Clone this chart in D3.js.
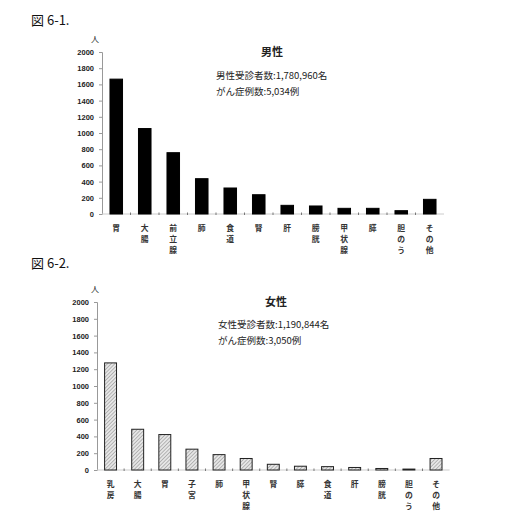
<!DOCTYPE html>
<html>
<head>
<meta charset="utf-8">
<script src="https://cdn.jsdelivr.net/npm/d3@7"></script>
<style>
  body { margin: 0; background: #fff; }
  text { font-family: "Noto Sans CJK JP", sans-serif; }
</style>
</head>
<body>
<div id="container"></div>
<script>
(function() {

// 男性
let maleCategories = ["胃", "大腸", "前立腺", "肺", "食道", "腎", "肝", "膀胱", "甲状腺", "膵", "胆のう", "その他"];
let maleValues = [1665, 1055, 757, 436, 321, 238, 107, 99, 70, 70, 41, 181];

// 女性
let femaleCategories = ["乳房", "大腸", "胃", "子宮", "肺", "甲状腺", "腎", "膵", "食道", "肝", "膀胱", "胆のう", "その他"];
let femaleValues = [1275, 485, 422, 248, 183, 137, 68, 45, 40, 30, 18, 11, 137];

let yTicks = [0, 200, 400, 600, 800, 1000, 1200, 1400, 1600, 1800, 2000];

let svg = d3.select("#container")
  .append("svg")
    .attr("width", 524)
    .attr("height", 528);

let defs = svg.append("defs");
let pat = defs.append("pattern")
    .attr("id", "hatch")
    .attr("patternUnits", "userSpaceOnUse")
    .attr("width", 2.6)
    .attr("height", 2.6)
    .attr("patternTransform", "rotate(45)");
pat.append("rect").attr("width", 2.6).attr("height", 2.6).attr("fill", "#e6e6e6");
pat.append("line")
    .attr("x1", 0).attr("y1", 0).attr("x2", 0).attr("y2", 2.6)
    .attr("stroke", "#777").attr("stroke-width", 0.9);

// figure captions
svg.append("text").attr("x", 31).attr("y", 25)
  .style("font-size", "13px").style("fill", "#111").text("図 6-1.");
svg.append("text").attr("x", 31).attr("y", 268)
  .style("font-size", "13px").style("fill", "#111").text("図 6-2.");

buildChart({
  cats: maleCategories, vals: maleValues,
  left: 102, right: 444, top: 52, bottom: 214,
  title: "男性", titleX: 272, titleY: 56,
  lines: ["男性受診者数:1,780,960名", "がん症例数:5,034例"],
  textX: 216, textY: 79,
  fill: "#000", stroke: "#000",
  unitY: 42
});

buildChart({
  cats: femaleCategories, vals: femaleValues,
  left: 97, right: 449.6, top: 302, bottom: 470,
  title: "女性", titleX: 276, titleY: 306,
  lines: ["女性受診者数:1,190,844名", "がん症例数:3,050例"],
  textX: 218, textY: 328,
  fill: "url(#hatch)", stroke: "#222",
  unitY: 292
});

function buildChart(o) {
  let g = svg.append("g");

  let x = d3.scaleBand()
    .domain(o.cats)
    .range([o.left, o.right])
    .paddingInner(0.56)
    .paddingOuter(0.28);
  let y = d3.scaleLinear()
    .domain([0, 2000])
    .range([o.bottom, o.top]);

  // y axis
  let ya = g.append("g")
    .attr("transform", "translate(" + o.left + ",0)")
    .call(d3.axisLeft(y).tickValues(yTicks).tickFormat(d3.format("d")).tickSize(3).tickPadding(5));
  ya.select(".domain").attr("stroke", "#999");
  ya.selectAll(".tick line").attr("stroke", "#999");
  ya.selectAll(".tick text")
    .style("font-family", "'Liberation Sans', Arial, sans-serif")
    .style("font-size", "7.5px")
    .style("font-weight", "bold")
    .style("fill", "#222");

  // x axis baseline
  g.append("line")
    .attr("x1", o.left).attr("x2", o.right)
    .attr("y1", y(0)).attr("y2", y(0))
    .attr("stroke", "#ccc");
  g.selectAll(".xtick")
    .data(o.cats.slice(1))
    .enter()
    .append("line")
      .attr("x1", (d) => x(d) - x.step() * x.paddingInner() / 2)
      .attr("x2", (d) => x(d) - x.step() * x.paddingInner() / 2)
      .attr("y1", y(0) - 1.5)
      .attr("y2", y(0) + 1)
      .attr("stroke", "#777");

  // bars
  g.selectAll(".bar")
    .data(o.vals)
    .enter()
    .append("rect")
      .attr("x", (d, i) => x(o.cats[i]))
      .attr("y", (d) => y(d))
      .attr("width", x.bandwidth())
      .attr("height", (d) => y(0) - y(d))
      .attr("fill", o.fill)
      .attr("stroke", o.stroke)
      .attr("stroke-width", 1);

  // vertical category labels, one character per line
  o.cats.forEach((c) => {
    g.selectAll(null)
      .data(c.split(""))
      .enter()
      .append("text")
        .attr("x", x(c) + x.bandwidth() / 2)
        .attr("y", (d, i) => y(0) + 16.5 + i * 11.2)
        .attr("text-anchor", "middle")
        .style("font-size", "7.8px")
        .style("font-weight", "bold")
        .style("fill", "#333")
        .text((d) => d);
  });

  // unit
  g.append("text")
    .attr("x", 95).attr("y", o.unitY)
    .attr("text-anchor", "middle")
    .style("font-size", "8px").style("fill", "#222")
    .text("人");

  // title and notes
  g.append("text")
    .attr("x", o.titleX).attr("y", o.titleY)
    .attr("text-anchor", "middle")
    .style("font-size", "11px").style("font-weight", "bold").style("fill", "#222")
    .text(o.title);
  g.selectAll(".note")
    .data(o.lines)
    .enter()
    .append("text")
      .attr("x", o.textX)
      .attr("y", (d, i) => o.textY + i * 16)
      .style("font-size", "9.5px").style("fill", "#222")
      .text((d) => d);
}

})();
</script>
</body>
</html>
